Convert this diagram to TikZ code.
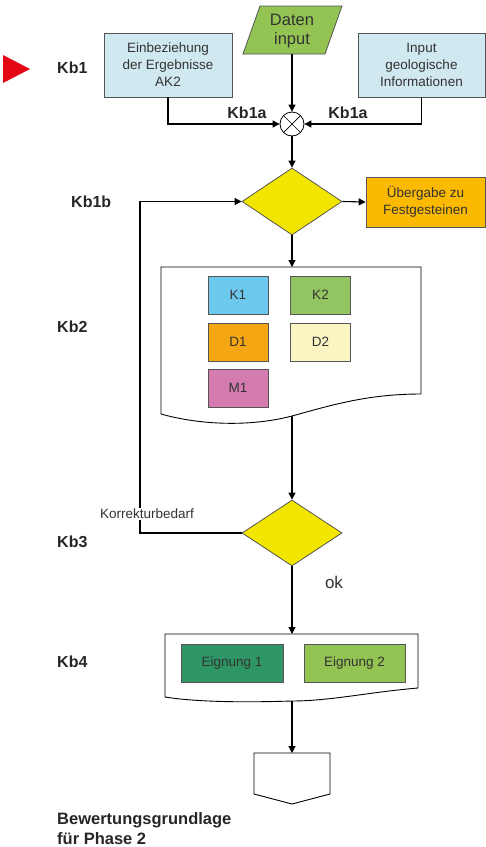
\documentclass[tikz,border=0pt]{standalone}
\usepackage{fontspec}
\setmainfont{Liberation Sans}
\usetikzlibrary{shapes.geometric,arrows.meta}
\definecolor{txt}{HTML}{333333}
\definecolor{kbc}{HTML}{262626}
\definecolor{lblue}{HTML}{D0E8F0}
\definecolor{dgreen}{HTML}{92C353}
\definecolor{yel}{HTML}{F2E500}
\definecolor{orng}{HTML}{FBBA00}
\definecolor{kone}{HTML}{6DC8EE}
\definecolor{ktwo}{HTML}{93C462}
\definecolor{done}{HTML}{F4A613}
\definecolor{dtwo}{HTML}{FBF5C4}
\definecolor{mone}{HTML}{D47BB0}
\definecolor{eone}{HTML}{2E9664}
\definecolor{etwo}{HTML}{93C353}
\definecolor{redtri}{HTML}{E30613}
\definecolor{bord}{HTML}{555555}
\tikzset{
  box/.style={draw=bord, line width=0.8pt, inner sep=0pt, align=center, text=txt,
    font=\fontsize{13.5}{17}\selectfont},
  dia/.style={diamond, draw=bord, line width=0.8pt, fill=yel, inner sep=0pt},
  arr/.style={-{Triangle[length=7pt,width=7pt]}, line width=1.1pt},
  ln/.style={line width=1.1pt},
  kb/.style={font=\bfseries\fontsize{16}{20}\selectfont, anchor=west, inner sep=0pt, text=kbc},
  shp/.style={draw=black, line width=0.9pt, fill=white}
}
\begin{document}
\begin{tikzpicture}[x=1pt,y=-1pt]
\useasboundingbox (0,0) rectangle (486,847);

% red marker
\fill[redtri] (3,55) -- (30,69) -- (3,83) -- cycle;

% labels
\node[kb] (kb1) at (57,68) {Kb1};
\node[kb] (kb1b) at (71,202) {Kb1b};
\node[kb] (kb2) at (57,327) {Kb2};
\node[kb] (kb3) at (57,542) {Kb3};
\node[kb] (kb4) at (57,662) {Kb4};
\node[kb, anchor=center] (kb1al) at (247,113) {Kb1a};
\node[kb, anchor=center] (kb1ar) at (348,113) {Kb1a};

% top boxes
\node[box, fill=lblue, minimum width=128pt, minimum height=64pt] (eink) at (168,65)
  {Einbeziehung\\der Ergebnisse\\AK2};
\node[box, fill=lblue, minimum width=127pt, minimum height=64pt] (geo) at (421.5,65)
  {Input\\geologische\\Informationen};

% Daten input parallelogram
\draw[draw=bord, line width=0.8pt, fill=dgreen] (260,6) -- (342,6) -- (325,54) -- (243,54) -- cycle;
\node[text=txt, align=center, inner sep=0pt, font=\fontsize{16.5}{19}\selectfont] (daten) at (292,31) {Daten\\input};
\coordinate (datenbot) at (292,54);

% summing junction
\node[circle, draw=black, line width=0.8pt, fill=white, minimum size=24pt, inner sep=0pt] (sum) at (292,124) {};
\draw[line width=0.7pt] (sum.north west) -- (sum.south east) (sum.north east) -- (sum.south west);

\draw[arr] (eink.south) |- (sum.west);
\draw[arr] (geo.south) |- (sum.east);
\draw[arr] (datenbot) -- (sum.north);

% decision 1
\node[dia, minimum width=100pt, minimum height=67pt] (dia1) at (292,201.5) {};
\draw[arr] (sum.south) -- (dia1.north);

\node[box, fill=orng, minimum width=119pt, minimum height=50pt] (ueb) at (425.5,202)
  {Übergabe zu\\Festgesteinen};
\draw[arr] (dia1.east) -- (ueb.west);

% document 1
\draw[shp] (161,267) -- (421,267) -- (421,394)
  .. controls (370,394) and (335,404) .. (292,416)
  .. controls (250,427) and (200,425) .. (161,414) -- cycle;
\coordinate (d1top) at (292,267);
\coordinate (d1bot) at (292,416);
\draw[arr] (dia1.south) -- (d1top);

\node[box, fill=kone, minimum width=60pt, minimum height=38pt] (k1) at (238,295) {K1};
\node[box, fill=ktwo, minimum width=60pt, minimum height=38pt] (k2) at (320.5,295) {K2};
\node[box, fill=done, minimum width=60pt, minimum height=38pt] (d1) at (238,342) {D1};
\node[box, fill=dtwo, minimum width=60pt, minimum height=38pt] (d2) at (320.5,342) {D2};
\node[box, fill=mone, minimum width=60pt, minimum height=38pt] (m1) at (238,388) {M1};

% decision 2
\node[dia, minimum width=100pt, minimum height=66pt] (dia2) at (292,533) {};
\draw[arr] (d1bot) -- (dia2.north);

% feedback loop
\coordinate (lpb) at (140,533);
\coordinate (lpt) at (140,201.5);
\draw[arr] (dia2.west) -- (lpb) -- (lpt) -- (dia1.west);
\node[fill=white, inner sep=1.5pt, text=txt, font=\fontsize{13.5}{16}\selectfont] (korr) at (147,514) {Korrekturbedarf};

\node[text=txt, inner sep=0pt, font=\fontsize{17}{20}\selectfont] (ok) at (334,582) {ok};

% document 2
\draw[shp] (165,634) -- (418,634) -- (418,688)
  .. controls (370,692) and (330,701) .. (292,701)
  .. controls (230,703) and (190,701) .. (165,697) -- cycle;
\coordinate (d2top) at (292,634);
\coordinate (d2bot) at (292,701);
\draw[arr] (dia2.south) -- (d2top);

\node[box, fill=eone, minimum width=102pt, minimum height=38pt] (e1) at (232,663) {Eignung 1};
\node[box, fill=etwo, minimum width=101pt, minimum height=38pt] (e2) at (354.5,663) {Eignung 2};

% off-page connector
\draw[shp] (254,753) -- (330,753) -- (330,794) -- (292,804) -- (254,794) -- cycle;
\coordinate (pent) at (292,753);
\draw[arr] (d2bot) -- (pent);

\node[kb, align=left, font=\bfseries\fontsize{16.5}{20}\selectfont] (bew) at (57,829)
  {Bewertungsgrundlage\\für Phase 2};
\end{tikzpicture}
\end{document}
